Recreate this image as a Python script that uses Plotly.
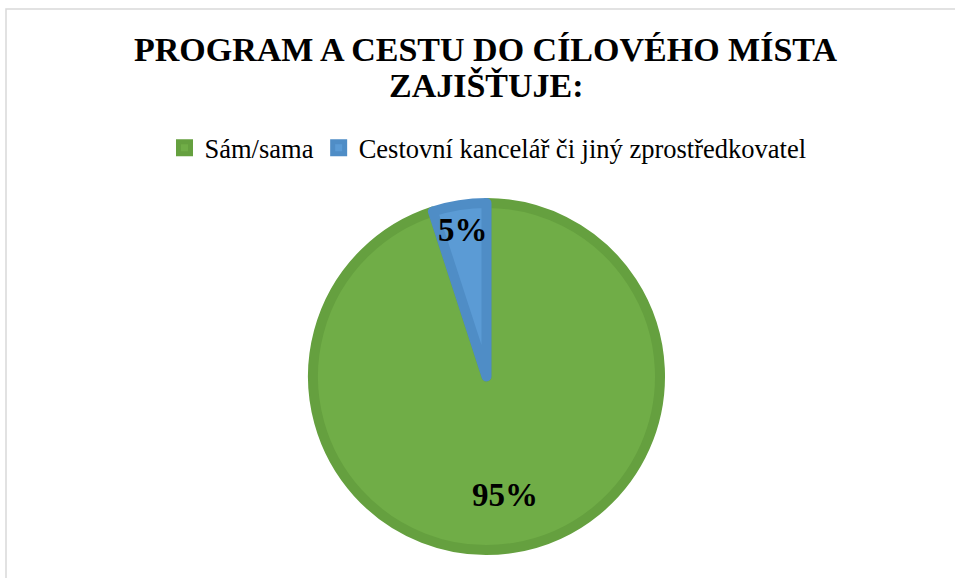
import math
import plotly.graph_objects as go

categories = ["Sám/sama", "Cestovní kancelář či jiný zprostředkovatel"]
values = [95, 5]
label_texts = ["95%", "5%"]
title_lines = ["PROGRAM A CESTU DO CÍLOVÉHO MÍSTA", "ZAJIŠŤUJE:"]

fill_colors = ["#70AD47", "#5B9BD5"]
line_colors = ["#65A03F", "#4F8DC6"]

W, H = 955, 578
cx, cy, R_vis = 486.5, 376.5, 178.5
line_w = 10
R = R_vis - line_w / 2

fig = go.Figure()
fig.add_trace(go.Pie(
    labels=categories,
    values=values,
    sort=False,
    direction="clockwise",
    rotation=0,
    textinfo="none",
    hoverinfo="label+percent",
    marker=dict(colors=fill_colors, line=dict(color=line_colors, width=line_w)),
    domain=dict(x=[(cx - R) / W, (cx + R) / W], y=[1 - (cy + R) / H, 1 - (cy - R) / H]),
))

# data labels at the mid-angle of each slice
label_radius = [0.67, 0.83]
total = sum(values)
cum = 0
annotations = []
for v, t, k in zip(values, label_texts, label_radius):
    theta = math.radians((cum + v / 2) / total * 360)
    cum += v
    px = cx + k * R_vis * math.sin(theta)
    py = cy - k * R_vis * math.cos(theta)
    annotations.append(dict(
        x=px / W, y=1 - py / H, xref="paper", yref="paper",
        text=t, showarrow=False,
        font=dict(family="Liberation Serif", size=33, color="#000000", weight="bold"),
        xanchor="center", yanchor="middle",
    ))

# title, two lines
title_y = [50, 85]
for line, ty in zip(title_lines, title_y):
    annotations.append(dict(
        x=486 / W, y=1 - ty / H, xref="paper", yref="paper",
        text=line, showarrow=False,
        font=dict(family="Liberation Serif", size=34, color="#000000", weight="bold"),
        xanchor="center", yanchor="middle",
    ))

fig.update_layout(
    width=W, height=H,
    margin=dict(l=0, r=0, t=0, b=0),
    paper_bgcolor="white",
    plot_bgcolor="white",
    showlegend=True,
    legend=dict(
        orientation="h",
        x=488 / W, xanchor="center",
        y=1 - 148 / H, yanchor="middle",
        font=dict(family="Liberation Serif", size=26.5, color="#000000"),
        itemwidth=30,
        traceorder="normal",
        bgcolor="rgba(0,0,0,0)",
    ),
    annotations=annotations,
    shapes=[dict(
        type="rect", xref="paper", yref="paper",
        x0=6 / W, x1=1.02, y0=-0.02, y1=1 - 9 / H,
        line=dict(color="#D9D9D9", width=1.5),
        fillcolor="rgba(0,0,0,0)",
        layer="below",
    )],
)

fig.write_html(
    "out.html",
    config={"displayModeBar": False},
    post_script="document.body.style.margin='0';document.body.style.overflow='hidden';",
)
